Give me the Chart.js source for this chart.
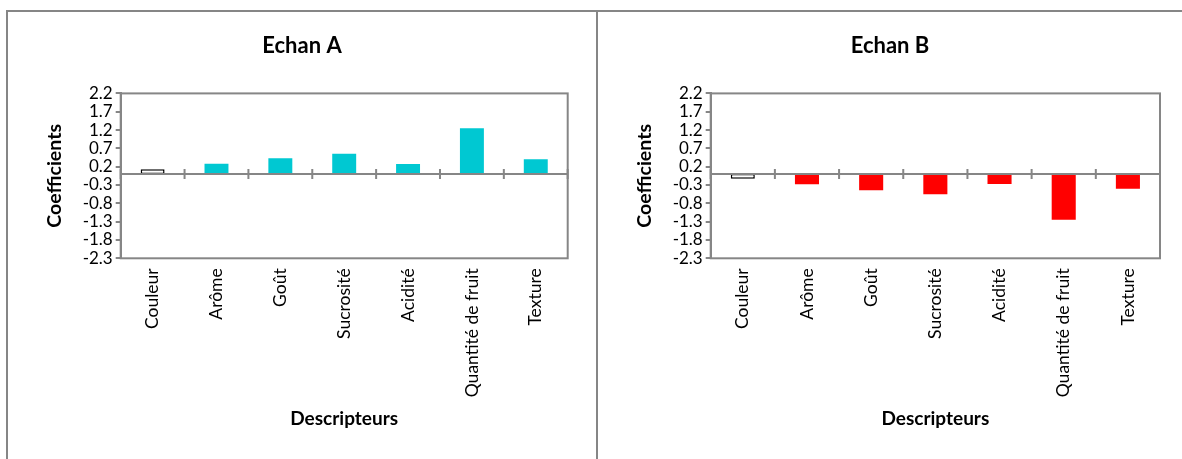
<!DOCTYPE html>
<html>
<head>
<meta charset="utf-8">
<script src="https://cdn.jsdelivr.net/npm/chart.js@4.4.1/dist/chart.umd.min.js"></script>
<style>
  body { margin: 0; background: #fff; width: 1182px; height: 459px; overflow: hidden; }
  .panel { position: absolute; top: 10px; height: 449px; border-top: 2px solid #868686; }
  #panelA { left: 6px; width: 588px; border-left: 2px solid #868686; border-right: 2px solid #868686; }
  #panelB { left: 598px; width: 584px; }
  canvas { display: block; }
</style>
</head>
<body>
<div class="panel" id="panelA"><canvas id="chartA"></canvas></div>
<div class="panel" id="panelB"><canvas id="chartB"></canvas></div>
<script>
const categories = ["Couleur", "Arôme", "Goût", "Sucrosité", "Acidité", "Quantité de fruit", "Texture"];
const echanA = [0.13, 0.28, 0.43, 0.55, 0.27, 1.25, 0.40];
const echanB = [-0.13, -0.28, -0.44, -0.55, -0.27, -1.25, -0.40];
const yTicks = [2.2, 1.7, 1.2, 0.7, 0.2, -0.3, -0.8, -1.3, -1.8, -2.3];

const gray = "#868686";
Chart.defaults.font.family = "Lato, 'Open Sans', sans-serif";
Chart.defaults.color = "#000";

// plot area frame + horizontal axis through zero with crossing ticks
const framePlugin = {
  id: "frame",
  afterDatasetsDraw(chart) {
    const {ctx, chartArea: a, scales: {x, y}} = chart;
    ctx.save();
    ctx.strokeStyle = gray;
    ctx.lineWidth = 2;
    ctx.strokeRect(a.left, a.top, a.right - a.left, a.bottom - a.top);
    const y0 = y.getPixelForValue(0);
    ctx.beginPath();
    ctx.moveTo(a.left, y0);
    ctx.lineTo(a.right, y0);
    const half = (x.getPixelForValue(1) - x.getPixelForValue(0)) / 2;
    for (let i = 0; i <= categories.length; i++) {
      const px = x.getPixelForValue(i) - half;
      ctx.moveTo(px, y0 - 5);
      ctx.lineTo(px, y0 + 5);
    }
    ctx.stroke();
    ctx.restore();
  }
};

const makeChart = (id, title, values, color, w, padRight) => {
  const canvas = document.getElementById(id);
  canvas.width = w;
  canvas.height = 447;
  canvas.style.width = w + "px";
  canvas.style.height = "447px";
  return new Chart(canvas, {
    type: "bar",
    data: {
      labels: categories,
      datasets: [{
        data: values,
        backgroundColor: values.map((v, i) => i === 0 ? "#fff" : color),
        borderColor: values.map((v, i) => i === 0 ? "#000" : color),
        borderWidth: values.map((v, i) => i === 0 ? 1.5 : 0),
        borderSkipped: false,
        barPercentage: 0.375,
        categoryPercentage: 1
      }]
    },
    options: {
      responsive: false,
      animation: false,
      layout: { padding: 0 },
      plugins: {
        legend: { display: false },
        tooltip: { enabled: false },
        title: {
          display: true,
          text: title,
          color: "#000",
          font: { size: 22, weight: "bold" },
          padding: { top: 21, bottom: 34 }
        }
      },
      scales: {
        x: {
          grid: { display: false, drawTicks: false },
          border: { display: false },
          ticks: { minRotation: 90, maxRotation: 90, padding: 10, font: { size: 17.5 } },
          title: {
            display: true,
            text: "Descripteurs",
            font: { size: 19, weight: "bold" },
            padding: { top: 0, bottom: 29 }
          },
          afterFit: (s) => { s.height = 200.7; }
        },
        y: {
          min: -2.3,
          max: 2.2,
          afterBuildTicks: (s) => { s.ticks = yTicks.map(v => ({ value: v })); },
          grid: { drawOnChartArea: false, drawTicks: true, tickLength: 5, color: gray, lineWidth: 2 },
          border: { display: true, color: gray, width: 2 },
          ticks: { autoSkip: false, padding: 3, font: { size: 17 }, callback: (v) => v.toFixed(1) },
          title: {
            display: true,
            text: "Coefficients",
            font: { size: 19.5, weight: "bold" },
            padding: { top: 35, bottom: 0 }
          },
          afterFit: (s) => { s.width = 112.7; }
        },
        // empty right margin so the chart title stays centred on the whole panel
        margin: {
          type: "linear",
          position: "right",
          display: true,
          grid: { display: false },
          border: { display: false },
          ticks: { display: false },
          afterFit: (s) => { s.width = padRight; }
        }
      }
    },
    plugins: [framePlugin]
  });
};

makeChart("chartA", "Echan A", echanA, "#00C8D2", 588, 28.3);
makeChart("chartB", "Echan B", echanB, "#FF0000", 584, 22);
</script>
</body>
</html>
